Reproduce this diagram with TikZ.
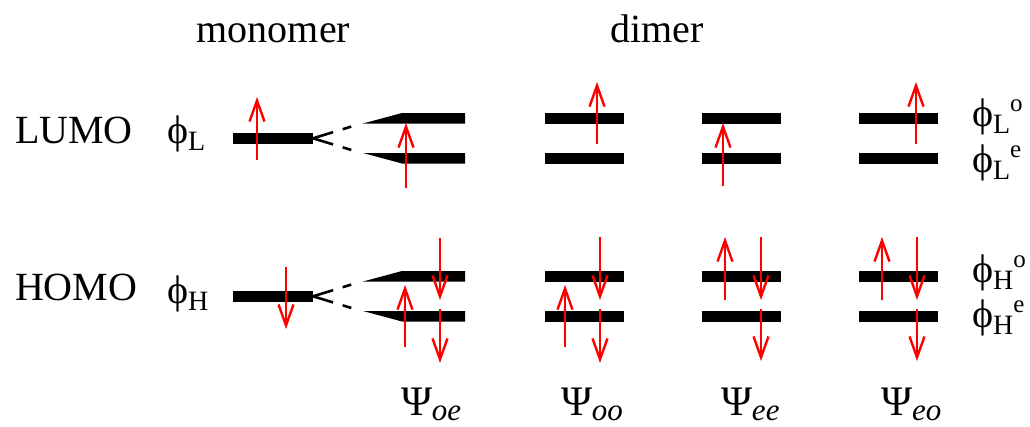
\documentclass[tikz,border=0pt]{standalone}
\usepackage{fontspec}
\setmainfont{Liberation Serif}
\usetikzlibrary{arrows.meta}
\tikzset{
  lbl/.style={inner sep=0pt, outer sep=0pt, anchor=base west, font=\fontsize{40}{48}\selectfont},
  ctr/.style={inner sep=0pt, outer sep=0pt, anchor=base, font=\fontsize{40}{48}\selectfont},
  lev/.style={fill=black, draw=none},
  spin/.style={draw=red, line width=2.6pt, -{Straight Barb[length=21pt,width=15pt,line width=2.4pt]}},
  split/.style={draw=black, line width=2.6pt, dash pattern=on 21pt off 10pt on 9pt off 30pt}
}
\newcommand{\phlab}[1]{ϕ\raisebox{-7pt}{\fontsize{28}{30}\selectfont #1}}
\newcommand{\phlabs}[2]{ϕ\raisebox{-7pt}{\fontsize{28}{30}\selectfont #1}\raisebox{15pt}{\fontsize{25}{28}\selectfont #2}}
\newcommand{\psilab}[1]{{\fontsize{42}{48}\selectfont Ψ}\raisebox{-5pt}{\fontsize{31}{34}\selectfont\itshape #1}}
\begin{document}
\begin{tikzpicture}[x=1pt,y=-1pt]
\useasboundingbox (0,0) rectangle (1030,426);
% headings
\node[ctr] (mono) at (273.5,42) {monomer};
\node[ctr] (dim) at (657,42) {dimer};
\node[lbl] (lumo) at (15,143) {LUMO};
\node[lbl] (homo) at (15,300) {HOMO};
\node[lbl] (phL) at (167,143) {\phlab{L}};
\node[lbl] (phH) at (167,303) {\phlab{H}};
\node[lbl] (phLo) at (972,126) {\phlabs{L}{o}};
\node[lbl] (phLe) at (972,172) {\phlabs{L}{e}};
\node[lbl] (phHo) at (972,282) {\phlabs{H}{o}};
\node[lbl] (phHe) at (972,327) {\phlabs{H}{e}};
\node[lbl] (psi1) at (401,415) {\psilab{oe}};
\node[lbl] (psi2) at (561,415) {\psilab{oo}};
\node[lbl] (psi3) at (721,415) {\psilab{ee}};
\node[lbl] (psi4) at (881,415) {\psilab{eo}};
% levels: LUMO (dy=0) and HOMO (dy=158)
\foreach \dy in {0,158}{
  \begin{scope}[yshift=-\dy pt]
    \fill[lev] (233,133) rectangle (313,143.5);
    \draw[split] (313,138.3) -- (363,123);
    \draw[split] (313,138.3) -- (363,153.5);
    \fill[lev] (363,123.5) -- (402,113) -- (465,113) -- (465,123.5) -- cycle;
    \fill[lev] (363,153) -- (465,153) -- (465,163.5) -- (402,163.5) -- cycle;
    \foreach \xa/\xb in {545/624,702/781,859/938}{
      \fill[lev] (\xa,113) rectangle (\xb,123.5);
      \fill[lev] (\xa,153) rectangle (\xb,163.5);
    }
  \end{scope}
}
% LUMO spins
\draw[spin] (257,160) -- (257,97);
\draw[spin] (406,188) -- (406,123);
\draw[spin] (597,144) -- (597,82);
\draw[spin] (723,186) -- (723,123);
\draw[spin] (916,144) -- (916,82);
% HOMO spins
\draw[spin] (286,267) -- (286,329);
\draw[spin] (405,347) -- (405,285);
\draw[spin] (440,238) -- (440,300);
\draw[spin] (440,309) -- (440,363);
\draw[spin] (565,347) -- (565,285);
\draw[spin] (600,237) -- (600,300);
\draw[spin] (600,309) -- (600,363);
\draw[spin] (725,300) -- (725,237);
\draw[spin] (761,237) -- (761,300);
\draw[spin] (761,309) -- (761,361);
\draw[spin] (882,300) -- (882,237);
\draw[spin] (917,237) -- (917,300);
\draw[spin] (917,309) -- (917,361);
\end{tikzpicture}
\end{document}
